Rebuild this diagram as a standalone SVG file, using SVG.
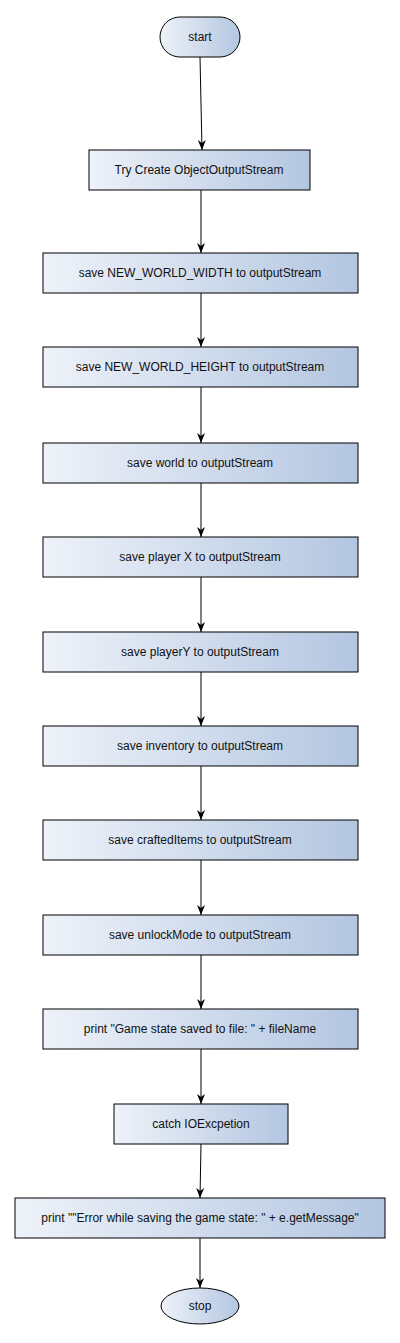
<svg xmlns="http://www.w3.org/2000/svg" width="400" height="1343" viewBox="0 0 400 1343">
<style>
.n{fill:url(#g);stroke:#000;stroke-width:1}
.t{font-family:"Liberation Sans",Arial,sans-serif;font-size:12px;fill:#111;text-anchor:middle}
.c{stroke:#000;stroke-width:1;fill:none;marker-end:url(#a)}
</style>
<defs>
<linearGradient id="g" x1="0" y1="0" x2="1" y2="0">
<stop offset="0" stop-color="#eef2f9"/>
<stop offset="1" stop-color="#b3c6e1"/>
</linearGradient>
<marker id="a" viewBox="0 0 10 10" refX="10" refY="5" markerWidth="10" markerHeight="10" markerUnits="userSpaceOnUse" orient="auto">
<path d="M0,1 L10,5 L0,9 L3,5 Z" fill="#000"/>
</marker>
</defs>
<g id="connectors">
<line class="c" x1="200" y1="57" x2="202" y2="150"/>
<line class="c" x1="201" y1="190" x2="201" y2="253"/>
<line class="c" x1="201" y1="293" x2="201" y2="347"/>
<line class="c" x1="201" y1="387" x2="201" y2="443"/>
<line class="c" x1="201" y1="483" x2="201" y2="537"/>
<line class="c" x1="201" y1="577" x2="201" y2="632"/>
<line class="c" x1="201" y1="672" x2="201" y2="726"/>
<line class="c" x1="201" y1="766" x2="201" y2="820"/>
<line class="c" x1="201" y1="860" x2="201" y2="915"/>
<line class="c" x1="201" y1="955" x2="201" y2="1009"/>
<line class="c" x1="201" y1="1049" x2="201" y2="1104"/>
<line class="c" x1="201" y1="1144" x2="200" y2="1198"/>
<line class="c" x1="200" y1="1238" x2="200" y2="1288"/>
</g>
<g id="start"><rect class="n" x="160" y="17" width="80" height="40" rx="20" ry="20"/><text class="t" x="200" y="41">start</text></g>
<g id="n1"><rect class="n" x="89" y="150" width="221" height="40"/><text class="t" x="199" y="174">Try Create ObjectOutputStream</text></g>
<g id="n2"><rect class="n" x="43" y="253" width="315" height="40"/><text class="t" x="200" y="277">save NEW_WORLD_WIDTH to outputStream</text></g>
<g id="n3"><rect class="n" x="43" y="347" width="315" height="40"/><text class="t" x="200" y="371">save NEW_WORLD_HEIGHT to outputStream</text></g>
<g id="n4"><rect class="n" x="43" y="443" width="315" height="40"/><text class="t" x="200" y="467">save world to outputStream</text></g>
<g id="n5"><rect class="n" x="43" y="537" width="315" height="40"/><text class="t" x="200" y="561">save player X to outputStream</text></g>
<g id="n6"><rect class="n" x="43" y="632" width="315" height="40"/><text class="t" x="200" y="656">save playerY to outputStream</text></g>
<g id="n7"><rect class="n" x="43" y="726" width="315" height="40"/><text class="t" x="200" y="750">save inventory to outputStream</text></g>
<g id="n8"><rect class="n" x="43" y="820" width="315" height="40"/><text class="t" x="200" y="844">save craftedItems to outputStream</text></g>
<g id="n9"><rect class="n" x="43" y="915" width="315" height="40"/><text class="t" x="200" y="939">save unlockMode to outputStream</text></g>
<g id="n10"><rect class="n" x="43" y="1009" width="315" height="40"/><text class="t" x="200" y="1033">print "Game state saved to file: " + fileName</text></g>
<g id="n11"><rect class="n" x="114" y="1104" width="174" height="40"/><text class="t" x="201" y="1128">catch IOExcpetion</text></g>
<g id="n12"><rect class="n" x="15" y="1198" width="370" height="40"/><text class="t" x="200" y="1222">print ""Error while saving the game state: " + e.getMessage"</text></g>
<g id="stop"><ellipse class="n" cx="200" cy="1306" rx="39" ry="18"/><text class="t" x="200" y="1310">stop</text></g>
</svg>
